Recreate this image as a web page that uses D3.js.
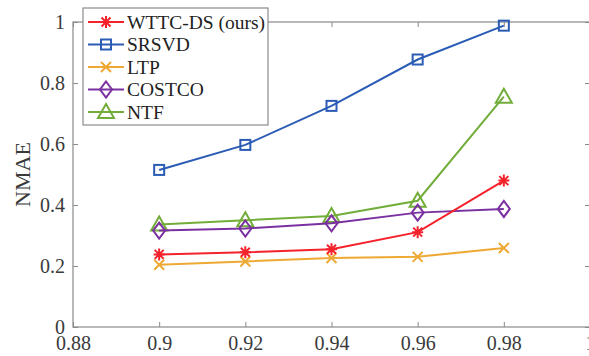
<!DOCTYPE html>
<html>
<head>
<meta charset="utf-8">
<script src="https://cdn.jsdelivr.net/npm/d3@7"></script>
<style>
  body { margin: 0; background: #fff; }
  svg { display: block; }
  text { font-family: "Liberation Serif", "Times New Roman", serif; }
</style>
</head>
<body>
<div id="chart"></div>
<script>
// sampling ratios on the x axis
const ratios = [0.9, 0.92, 0.94, 0.96, 0.98];

const wttc   = [0.238, 0.245, 0.255, 0.311, 0.480];
const srsvd  = [0.515, 0.597, 0.725, 0.877, 0.988];
const ltp    = [0.204, 0.215, 0.226, 0.230, 0.259];
const costco = [0.316, 0.323, 0.340, 0.375, 0.387];
const ntf    = [0.336, 0.350, 0.364, 0.414, 0.755];

const xTicks = [0.88, 0.9, 0.92, 0.94, 0.96, 0.98, 1];
const yTicks = [0, 0.2, 0.4, 0.6, 0.8, 1];

const series = [
  {name: "WTTC-DS (ours)", values: wttc,   color: "#f5212b", marker: "star"},
  {name: "SRSVD",          values: srsvd,  color: "#2b5cb5", marker: "square"},
  {name: "LTP",            values: ltp,    color: "#eea935", marker: "cross"},
  {name: "COSTCO",         values: costco, color: "#7a30a0", marker: "diamond"},
  {name: "NTF",            values: ntf,    color: "#72ad3a", marker: "triangle"}
];

const width = 589, height = 356;
const margin = {top: 22, right: -1, bottom: 29, left: 73};

const svg = d3.select("#chart").append("svg")
    .attr("width", width)
    .attr("height", height);

const x = d3.scaleLinear().domain([0.88, 1]).range([margin.left, width - margin.right]);
const y = d3.scaleLinear().domain([0, 1]).range([height - margin.bottom, margin.top]);

const axisColor = "#8a8a8a";
const labelColor = "#3a3a3a";

// box
svg.append("rect")
    .attr("x", x(0.88)).attr("y", y(1))
    .attr("width", x(1) - x(0.88)).attr("height", y(0) - y(1))
    .attr("fill", "none").attr("stroke", axisColor).attr("stroke-width", 1.2);

function styleAxis(g) {
  g.select(".domain").remove();
  g.selectAll(".tick line").attr("stroke", axisColor).attr("stroke-width", 1);
  g.selectAll(".tick text").attr("fill", labelColor).style("font-size", "20px");
}

// bottom & left axes with inward ticks
svg.append("g")
    .attr("transform", `translate(0,${y(0)})`)
    .call(d3.axisBottom(x).tickValues(xTicks).tickFormat(d3.format("")).tickSize(-5).tickPadding(9))
    .call(styleAxis);

svg.append("g")
    .attr("transform", `translate(0,${y(1)})`)
    .call(d3.axisTop(x).tickValues(xTicks).tickFormat("").tickSize(-5))
    .call(styleAxis);

svg.append("g")
    .attr("transform", `translate(${x(0.88)},0)`)
    .call(d3.axisLeft(y).tickValues(yTicks).tickFormat(d3.format("")).tickSize(-5).tickPadding(8))
    .call(styleAxis);

svg.append("g")
    .attr("transform", `translate(${x(1)},0)`)
    .call(d3.axisRight(y).tickValues(yTicks).tickFormat("").tickSize(-5))
    .call(styleAxis);

// y label
svg.append("text")
    .attr("transform", `translate(30,${(y(0) + y(1)) / 2}) rotate(-90)`)
    .attr("text-anchor", "middle")
    .attr("fill", labelColor)
    .style("font-size", "22px")
    .text("NMAE");

function drawMarker(g, type, color) {
  const s = 5;
  if (type === "square") {
    g.append("rect").attr("x", -s).attr("y", -s).attr("width", 2 * s).attr("height", 2 * s)
      .attr("fill", "none").attr("stroke", color).attr("stroke-width", 2);
  } else if (type === "diamond") {
    g.append("path").attr("d", "M0,-8L6,0L0,8L-6,0Z")
      .attr("fill", "none").attr("stroke", color).attr("stroke-width", 2);
  } else if (type === "triangle") {
    g.append("path").attr("d", "M0,-8L8,6L-8,6Z")
      .attr("fill", "none").attr("stroke", color).attr("stroke-width", 2);
  } else if (type === "cross") {
    g.append("path").attr("d", "M-5,-5L5,5M-5,5L5,-5")
      .attr("stroke", color).attr("stroke-width", 2);
  } else if (type === "star") {
    g.append("path").attr("d", "M-5.5,0L5.5,0M0,-6L0,6M-4.5,-4.5L4.5,4.5M-4.5,4.5L4.5,-4.5")
      .attr("stroke", color).attr("stroke-width", 2);
  }
}

const line = d3.line()
    .x((d, i) => x(ratios[i]))
    .y(d => y(d));

// draw in reverse so WTTC-DS ends up on top
series.slice().reverse().forEach(s => {
  const g = svg.append("g");
  g.append("path")
      .attr("d", line(s.values))
      .attr("fill", "none")
      .attr("stroke", s.color)
      .attr("stroke-width", 2);
  s.values.forEach((v, i) => {
    const m = g.append("g").attr("transform", `translate(${x(ratios[i])},${y(v)})`);
    drawMarker(m, s.marker, s.color);
  });
});

// legend
const legend = svg.append("g");
legend.append("rect")
    .attr("x", 83).attr("y", 8)
    .attr("width", 185).attr("height", 117)
    .attr("fill", "#fff").attr("stroke", axisColor).attr("stroke-width", 1.2);

series.forEach((s, i) => {
  const ly = 22 + i * 22.5;
  const row = legend.append("g");
  row.append("line")
      .attr("x1", 88).attr("x2", 124)
      .attr("y1", ly).attr("y2", ly)
      .attr("stroke", s.color).attr("stroke-width", 2);
  const m = row.append("g").attr("transform", `translate(106,${ly})`);
  drawMarker(m, s.marker, s.color);
  row.append("text")
      .attr("x", 127).attr("y", ly)
      .attr("dy", "0.35em")
      .attr("fill", "#222")
      .style("font-size", "19.5px")
      .text(s.name);
});
</script>
</body>
</html>
